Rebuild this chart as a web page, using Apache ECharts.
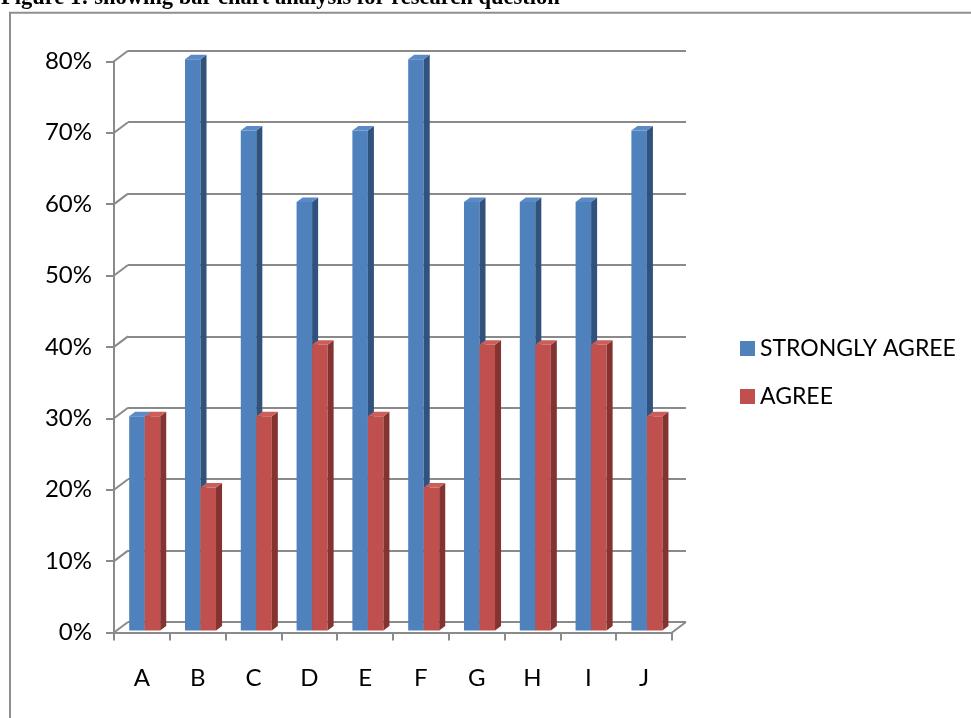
<!DOCTYPE html>
<html>
<head>
<meta charset="utf-8">
<title>Bar chart analysis</title>
<script src="https://cdn.jsdelivr.net/npm/echarts@6/dist/echarts.min.js"></script>
<style>
  html, body { margin: 0; padding: 0; background: #fff; }
  #chart { width: 971px; height: 718px; }
</style>
</head>
<body>
<div id="chart"></div>
<script>
// Research question responses, one value per statement A–J
const categories = ['A', 'B', 'C', 'D', 'E', 'F', 'G', 'H', 'I', 'J'];
const stronglyAgree = [0.30, 0.80, 0.70, 0.60, 0.70, 0.80, 0.60, 0.60, 0.60, 0.70];
const agree = [0.30, 0.20, 0.30, 0.40, 0.30, 0.20, 0.40, 0.40, 0.40, 0.30];
const seriesNames = ['STRONGLY AGREE', 'AGREE'];
const yTicks = [0, 0.1, 0.2, 0.3, 0.4, 0.5, 0.6, 0.7, 0.8];
const titleText = 'Figure 1: showing bar chart analysis for research question';

// Front plane of the 3D box and its depth offset toward the back wall
const FRONT = { left: 114, top: 61.3, width: 558, height: 571.2 };
const DX = 14, DY = 10.5;
const GRID_COLOR = '#8a8a8a';
const LABEL_FONT = "Lato, 'Liberation Sans', sans-serif";

const palette = [
  { front: '#4f81bd', side: '#30527d', top: '#5a8bc6' },
  { front: '#c0504d', side: '#853330', top: '#c95e5a' }
];

function makeBarRenderer(s) {
  const col = palette[s];
  return function (params, api) {
    const idx = api.value(0);
    const v = api.value(1);
    const base = api.coord([idx, 0]);
    const top = api.coord([idx, v]);
    const band = api.size([1, 0])[0];
    const w = band * 0.278;
    const c = base[0] + DX * 0.2;
    const x0 = s === 0 ? c - w : c;
    const x1 = x0 + w;
    const yb = base[1] - DY * 0.2;
    const yt = top[1] - DY * 0.2;
    const sx = DX * 0.43, sy = DY * 0.43;
    return {
      type: 'group',
      children: [
        { type: 'polygon', shape: { points: [[x0, yb], [x1, yb], [x1, yt], [x0, yt]] },
          style: { fill: col.front } },
        { type: 'polygon', shape: { points: [[x1, yb], [x1 + sx, yb - sy], [x1 + sx, yt - sy], [x1, yt]] },
          style: { fill: col.side } },
        { type: 'polygon', shape: { points: [[x0, yt], [x1, yt], [x1 + sx, yt - sy], [x0 + sx, yt - sy]] },
          style: { fill: col.top } }
      ]
    };
  };
}

// Diagonal edges joining the front axis to the back wall
function renderDepthEdges(params, api) {
  const v = api.value(1);
  const p = api.coord([0, v]);
  const band = api.size([1, 0])[0];
  const x = p[0] - band / 2;
  const children = [
    { type: 'line', shape: { x1: x, y1: p[1], x2: x + DX, y2: p[1] - DY },
      style: { stroke: GRID_COLOR, lineWidth: 2 } }
  ];
  if (v === 0) {
    const xr = x + band * categories.length;
    children.push({ type: 'line', shape: { x1: xr, y1: p[1], x2: xr + DX, y2: p[1] - DY },
      style: { stroke: GRID_COLOR, lineWidth: 2 } });
  }
  return { type: 'group', children: children };
}

const pct = v => Math.round(v * 100) + '%';

const chart = echarts.init(document.getElementById('chart'), null, { renderer: 'canvas' });
chart.setOption({
  animation: false,
  backgroundColor: '#ffffff',
  graphic: [
    { type: 'text', left: 1, top: -13, z: 10,
      style: { text: titleText, font: "bold 22.5px 'Liberation Serif', 'Times New Roman', serif", fill: '#000' } },
    { type: 'polyline', z: 10,
      shape: { points: [[10, 718], [10, 12.7], [971, 12.7]] },
      style: { stroke: '#8f8f8f', lineWidth: 2, fill: null } }
  ],
  legend: {
    orient: 'vertical',
    left: 735,
    top: 332,
    itemWidth: 15,
    itemHeight: 15,
    itemGap: 25,
    icon: 'rect',
    data: seriesNames,
    textStyle: { fontFamily: LABEL_FONT, fontSize: 23, color: '#000' }
  },
  grid: [
    { left: FRONT.left, top: FRONT.top, width: FRONT.width, height: FRONT.height },
    { left: FRONT.left + DX, top: FRONT.top - DY, width: FRONT.width, height: FRONT.height }
  ],
  xAxis: [
    { type: 'category', gridIndex: 0, data: categories, boundaryGap: true,
      axisLine: { show: true, lineStyle: { color: GRID_COLOR, width: 2 } },
      axisTick: { show: true, length: 8, lineStyle: { color: GRID_COLOR, width: 2 } },
      axisLabel: { margin: 34, fontFamily: LABEL_FONT, fontSize: 24, color: '#000' } },
    { type: 'category', gridIndex: 1, data: categories, show: false }
  ],
  yAxis: [
    { type: 'value', gridIndex: 0, min: 0, max: 0.8, interval: 0.1,
      axisLine: { show: true, lineStyle: { color: GRID_COLOR, width: 2 } },
      axisTick: { show: true, length: 8, lineStyle: { color: GRID_COLOR, width: 2 } },
      splitLine: { show: false },
      axisLabel: { margin: 22, formatter: pct, fontFamily: LABEL_FONT, fontSize: 24, color: '#000' } },
    { type: 'value', gridIndex: 1, min: 0, max: 0.8, interval: 0.1,
      axisLine: { show: false }, axisTick: { show: false }, axisLabel: { show: false },
      splitLine: { show: true, lineStyle: { color: GRID_COLOR, width: 2 } } }
  ],
  series: [
    { type: 'custom', name: 'depthEdges', xAxisIndex: 0, yAxisIndex: 0, silent: true, z: 1,
      renderItem: renderDepthEdges,
      data: yTicks.map(v => [0, v]) },
    { type: 'custom', name: seriesNames[0], xAxisIndex: 0, yAxisIndex: 0,
      itemStyle: { color: palette[0].front },
      renderItem: makeBarRenderer(0),
      data: stronglyAgree.map((v, i) => [categories[i], v]) },
    { type: 'custom', name: seriesNames[1], xAxisIndex: 0, yAxisIndex: 0,
      itemStyle: { color: palette[1].front },
      renderItem: makeBarRenderer(1),
      data: agree.map((v, i) => [categories[i], v]) }
  ]
});
</script>
</body>
</html>
